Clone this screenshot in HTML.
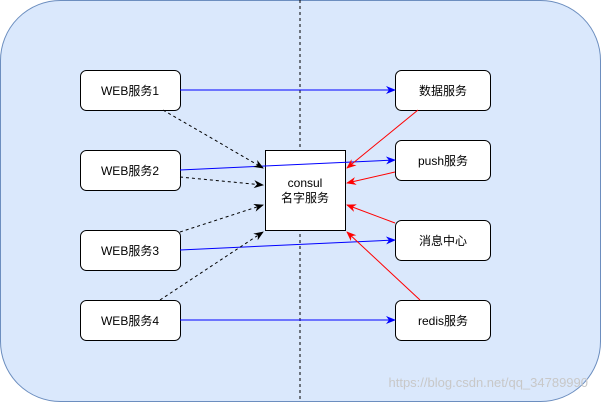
<!DOCTYPE html>
<html><head><meta charset="utf-8"><style>
body{margin:0;background:#fff}
text{font-family:"Liberation Sans","Noto Sans CJK SC",sans-serif;font-size:12px}
</style></head><body>
<svg width="601" height="402" viewBox="0 0 601 402">
<defs>
<marker id="b" markerWidth="10" markerHeight="10" refX="9" refY="5" orient="auto" markerUnits="userSpaceOnUse"><path d="M0,1 L10,5 L0,9 L3,5z" fill="#0000ff"/></marker>
<marker id="r" markerWidth="10" markerHeight="10" refX="9" refY="5" orient="auto" markerUnits="userSpaceOnUse"><path d="M0,1 L10,5 L0,9 L3,5z" fill="#ff0000"/></marker>
<marker id="k" markerWidth="10" markerHeight="10" refX="9" refY="5" orient="auto" markerUnits="userSpaceOnUse"><path d="M0,1 L10,5 L0,9 L3,5z" fill="#000"/></marker>
</defs>
<rect x="0.5" y="0.5" width="600" height="401" rx="60" fill="#dae8fc" stroke="#6c8ebf"/>
<line x1="300" y1="0" x2="300" y2="402" stroke="#000" stroke-dasharray="3,3"/>
<rect x="265.5" y="150.5" width="80" height="80" fill="#fff" stroke="#000"/>
<text x="305" y="187" text-anchor="middle">consul</text>
<text x="305" y="202" text-anchor="middle">名字服务</text>
<g fill="#fff" stroke="#000">
<rect x="80.5" y="70.5" width="100" height="40" rx="6"/>
<rect x="80.5" y="150.5" width="100" height="40" rx="6"/>
<rect x="80.5" y="230.5" width="100" height="40" rx="6"/>
<rect x="80.5" y="300.5" width="100" height="40" rx="6"/>
<rect x="395.5" y="70.5" width="95" height="40" rx="6"/>
<rect x="395.5" y="140.5" width="95" height="40" rx="6"/>
<rect x="395.5" y="220.5" width="95" height="40" rx="6"/>
<rect x="395.5" y="300.5" width="95" height="40" rx="6"/>
</g>
<g text-anchor="middle">
<text x="130" y="95">WEB服务1</text>
<text x="130" y="175">WEB服务2</text>
<text x="130" y="255">WEB服务3</text>
<text x="130" y="325">WEB服务4</text>
<text x="443" y="95">数据服务</text>
<text x="443" y="165">push服务</text>
<text x="443" y="245">消息中心</text>
<text x="443" y="325">redis服务</text>
</g>
<g stroke="#0000ff" marker-end="url(#b)">
<line x1="180" y1="90" x2="395" y2="90"/>
<line x1="180" y1="170" x2="395" y2="160"/>
<line x1="180" y1="250" x2="395" y2="240"/>
<line x1="180" y1="320" x2="395" y2="320"/>
</g>
<g stroke="#000" stroke-dasharray="3,3" marker-end="url(#k)">
<line x1="163" y1="110" x2="263" y2="168"/>
<line x1="180" y1="177" x2="263" y2="185"/>
<line x1="180" y1="232" x2="263" y2="205"/>
<line x1="160" y1="300" x2="263" y2="232"/>
</g>
<g stroke="#ff0000" marker-end="url(#r)">
<line x1="418" y1="110" x2="347" y2="168"/>
<line x1="395" y1="172" x2="347" y2="183"/>
<line x1="395" y1="223" x2="347" y2="205"/>
<line x1="420" y1="300" x2="347" y2="232"/>
</g>
<text x="588" y="387" text-anchor="end" fill="#c8c8c8" style="font-size:13px">https://blog.csdn.net/qq_34789990</text>
</svg>
</body></html>
